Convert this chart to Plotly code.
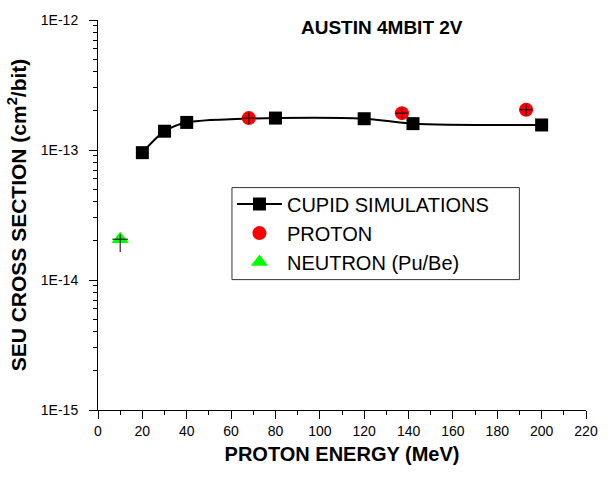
import plotly.graph_objects as go

# ---- data ----
cupid_x = [20, 30, 40, 80, 120, 142, 200]
cupid_y = [0.954e-13, 1.395e-13, 1.63e-13, 1.76e-13, 1.74e-13, 1.595e-13, 1.558e-13]

proton_x = [68, 137, 193]
proton_y = [1.76e-13, 1.92e-13, 2.04e-13]
proton_err_x = [3, 3, 3]
proton_err_y_plus = [0.19e-13, 0.21e-13, 0.22e-13]
proton_err_y_minus = [0.17e-13, 0.19e-13, 0.20e-13]

neutron_x = [10]
neutron_y = [2.06e-14]
neutron_err_x = [3.5]
neutron_err_y_plus = [0.18e-14]
neutron_err_y_minus = [0.42e-14]

y_tickvals = [1e-15, 1e-14, 1e-13, 1e-12]
y_ticktext = ["1E-15", "1E-14", "1E-13", "1E-12"]
y_minor_vals = [m * 10.0 ** e for e in (-15, -14, -13) for m in range(2, 10)]
x_tickvals = list(range(0, 221, 20))

FONT = "Arial, Liberation Sans, sans-serif"

fig = go.Figure()
fig.add_trace(go.Scatter(
    x=cupid_x, y=cupid_y, mode="lines+markers", name="CUPID SIMULATIONS",
    line=dict(color="black", width=2, shape="spline", smoothing=0.8),
    marker=dict(symbol="square", size=13, color="black"),
))
fig.add_trace(go.Scatter(
    x=proton_x, y=proton_y, mode="markers", name="PROTON",
    marker=dict(symbol="circle", size=14, color="#ff0000"),
))
fig.add_trace(go.Scatter(
    x=neutron_x, y=neutron_y, mode="markers", name="NEUTRON (Pu/Be)",
    marker=dict(symbol="triangle-up", size=15, color="#00ff00"),
))
# error-bar crosses drawn on top of the markers
fig.add_trace(go.Scatter(
    x=proton_x, y=proton_y, mode="markers", showlegend=False, hoverinfo="skip",
    marker=dict(size=1, opacity=0),
    error_x=dict(type="data", array=proton_err_x, color="black", thickness=1, width=0),
    error_y=dict(type="data", array=proton_err_y_plus, arrayminus=proton_err_y_minus,
                 color="black", thickness=1, width=0),
))
fig.add_trace(go.Scatter(
    x=neutron_x, y=neutron_y, mode="markers", showlegend=False, hoverinfo="skip",
    marker=dict(size=1, opacity=0),
    error_x=dict(type="data", array=neutron_err_x, color="black", thickness=1, width=0),
    error_y=dict(type="data", array=neutron_err_y_plus, arrayminus=neutron_err_y_minus,
                 color="black", thickness=1, width=0),
))

fig.add_annotation(
    text="<b>AUSTIN 4MBIT 2V</b>", x=0.582, y=0.98, xref="paper", yref="paper",
    showarrow=False, font=dict(family=FONT, size=19, color="black"),
    xanchor="center", yanchor="middle",
)

# legend frame
fig.add_shape(
    type="rect", xref="paper", yref="paper",
    x0=0.2745, x1=0.8635, y0=0.3343, y1=0.5703,
    line=dict(color="#333333", width=1), fillcolor="white", layer="above",
)

fig.update_layout(
    width=610, height=478,
    margin=dict(l=98, r=21, t=16, b=68),
    paper_bgcolor="white", plot_bgcolor="white",
    font=dict(family=FONT, color="black", size=14),
    showlegend=True,
    legend=dict(
        x=0.2745, y=0.578, xanchor="left", yanchor="top",
        borderwidth=0, bgcolor="rgba(0,0,0,0)",
        font=dict(family=FONT, size=20, color="black"),
        itemwidth=45, tracegroupgap=0,
    ),
    xaxis=dict(
        range=[0, 220], showline=True, linecolor="black", linewidth=1,
        showgrid=False, zeroline=False,
        ticks="outside", ticklen=8, tickwidth=1, tickcolor="black",
        tickvals=x_tickvals, tickfont=dict(size=14),
        minor=dict(ticks="outside", ticklen=4, tickwidth=1, tickcolor="black", dtick=10, showgrid=False),
        title=dict(text="<b>PROTON ENERGY (MeV)</b>", font=dict(size=20), standoff=9),
    ),
    yaxis=dict(
        type="log", range=[-15, -12], showline=True, linecolor="black", linewidth=1,
        showgrid=False, zeroline=False,
        ticks="outside", ticklen=8, tickwidth=1, tickcolor="black",
        tickvals=y_tickvals, ticktext=y_ticktext, tickfont=dict(size=14),
        ticklabelstandoff=8,
        minor=dict(ticks="outside", ticklen=4, tickwidth=1, tickcolor="black",
                   tickvals=y_minor_vals, showgrid=False),
        title=dict(text="<b>SEU CROSS SECTION (cm<sup>2</sup>/bit)</b>", font=dict(size=21), standoff=8),
    ),
)

fig.write_html("out.html")
